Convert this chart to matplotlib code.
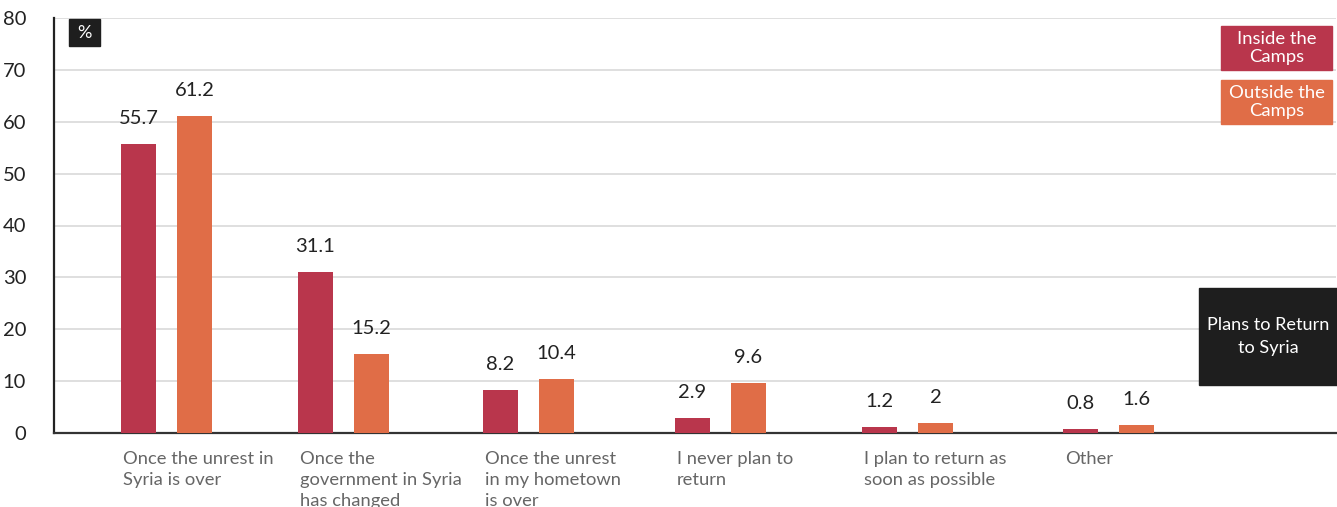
import matplotlib.pyplot as plt
from matplotlib.patches import Rectangle

plt.rcParams['font.family'] = ['Lato', 'DejaVu Sans']

categories = ["Once the unrest in\nSyria is over",
              "Once the\ngovernment in Syria\nhas changed",
              "Once the unrest\nin my hometown\nis over",
              "I never plan to\nreturn",
              "I plan to return as\nsoon as possible",
              "Other"]
inside = [55.7, 31.1, 8.2, 2.9, 1.2, 0.8]
outside = [61.2, 15.2, 10.4, 9.6, 2, 1.6]
inside_lbl = ["55.7", "31.1", "8.2", "2.9", "1.2", "0.8"]
outside_lbl = ["61.2", "15.2", "10.4", "9.6", "2", "1.6"]
yticks = [0, 10, 20, 30, 40, 50, 60, 70, 80]

# layout (pixel offsets from the left axis)
pos = [67, 244, 429, 621, 808, 1009]
bw = 35
gap = 56

RED = '#b9364c'
ORANGE = '#e06d47'
DARK = '#1e1e1e'

W, H = 1337, 507
fig = plt.figure(figsize=(W / 100, H / 100), dpi=100)
ax = fig.add_axes([54 / W, (H - 433) / H, 1282 / W, 415 / H])

ax.bar(pos, inside, width=bw, align='edge', color=RED, zorder=3)
ax.bar([p + gap for p in pos], outside, width=bw, align='edge', color=ORANGE, zorder=3)

for p, v, s in zip(pos, inside, inside_lbl):
    ax.annotate(s, (p + bw / 2, v), xytext=(0, 17), textcoords='offset pixels',
                ha='center', va='bottom', fontsize=14.5, color='#222222')
for p, v, s in zip(pos, outside, outside_lbl):
    ax.annotate(s, (p + gap + bw / 2, v), xytext=(0, 17), textcoords='offset pixels',
                ha='center', va='bottom', fontsize=14.5, color='#222222')

for p, c in zip(pos, categories):
    ax.annotate(c, (p + 2, 0), xytext=(0, -18), textcoords='offset pixels',
                ha='left', va='top', fontsize=13.2, color='#666666', linespacing=1.4,
                annotation_clip=False)

ax.set_xlim(0, 1282)
ax.set_ylim(0, 80)
ax.set_yticks(yticks)
ax.set_xticks([])
ax.tick_params(axis='y', length=0, pad=20, labelsize=14.5, labelcolor='#222222')
ax.grid(axis='y', color='#d9d9d9', linewidth=1.2, zorder=0)
for s in ['top', 'right']:
    ax.spines[s].set_visible(False)
ax.spines['left'].set_color('#222222')
ax.spines['left'].set_linewidth(1.6)
ax.spines['bottom'].set_color('#333333')
ax.spines['bottom'].set_linewidth(1.6)


def box(x0, y0, x1, y1, color, text, size, ls):
    fig.patches.append(Rectangle((x0 / W, 1 - y1 / H), (x1 - x0) / W, (y1 - y0) / H,
                                 transform=fig.transFigure, color=color, zorder=5))
    fig.text((x0 + x1) / 2 / W, 1 - (y0 + y1) / 2 / H, text, ha='center', va='center',
             color='white', fontsize=size, linespacing=ls, zorder=6)


box(69, 19, 100, 46, DARK, "%", 13, 1)
box(1221, 26, 1332, 70, RED, "Inside the\nCamps", 13.3, 1.15)
box(1221, 80, 1332, 124, ORANGE, "Outside the\nCamps", 13.3, 1.15)
box(1199, 288, 1337, 385, DARK, "Plans to Return\nto Syria", 13.1, 1.6)

fig.savefig('out.png', dpi=100)
